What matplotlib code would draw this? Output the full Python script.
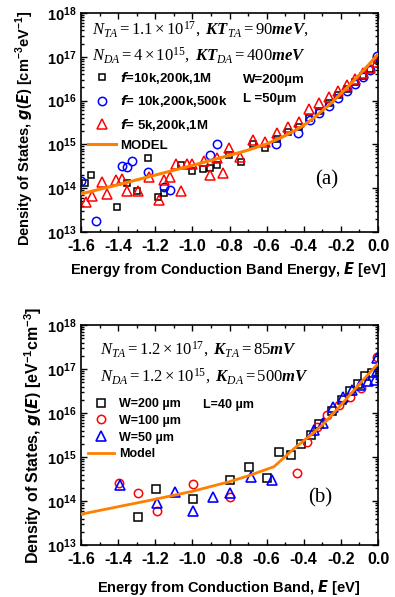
import numpy as np
import matplotlib
matplotlib.use('Agg')
import matplotlib.pyplot as plt
from matplotlib.ticker import MultipleLocator, LogLocator, LogFormatterSciNotation

plt.rcParams['font.family'] = 'Liberation Sans'
plt.rcParams['font.weight'] = 'bold'
plt.rcParams['axes.labelweight'] = 'bold'
plt.rcParams['axes.unicode_minus'] = False
plt.rcParams['mathtext.fontset'] = 'dejavusans'
# serif fonts for the parameter annotations (used via math_fontfamily='custom')
plt.rcParams['mathtext.rm'] = 'Liberation Serif:weight=normal'
plt.rcParams['mathtext.it'] = 'Liberation Serif:style=italic:weight=normal'
plt.rcParams['mathtext.bf'] = 'Liberation Serif:weight=bold'
plt.rcParams['mathtext.bfit'] = 'Liberation Serif:style=italic:weight=bold'

# ---------------- panel (a) data: E [eV], log10 g(E) ----------------
sq_a_E = [-1.578, -1.548, -1.408, -1.35, -1.297, -1.237, -1.184, -1.151, -1.061, -1.0,
          -0.941, -0.905, -0.869, -0.803, -0.740, -0.672, -0.609, -0.546, -0.483, -0.426,
          -0.370, -0.316, -0.262, -0.214, -0.169, -0.124, -0.083, -0.043, -0.007]
sq_a_lg = [14.13, 14.29, 13.56, 14.13, 13.94, 14.68, 13.79, 13.88, 14.53, 14.40,
           14.43, 14.47, 14.53, 14.76, 14.60, 15.02, 14.91, 15.12, 15.29, 15.40,
           15.60, 15.77, 15.95, 16.12, 16.27, 16.42, 16.57, 16.72, 16.92]

ci_a_E = [-1.6, -1.521, -1.381, -1.35, -1.324, -1.237, -1.151, -1.121, -0.905, -0.869,
          -0.55, -0.43, -0.366, -0.316, -0.262, -0.214, -0.165, -0.124, -0.083, -0.043, -0.007]
ci_a_lg = [14.17, 13.25, 14.51, 14.49, 14.62, 14.38, 14.02, 13.96, 14.76, 15.0,
           15.0, 15.26, 15.55, 15.72, 15.88, 16.05, 16.23, 16.38, 16.54, 16.70, 17.02]

tr_a_E = [-1.575, -1.542, -1.489, -1.462, -1.411, -1.381, -1.354, -1.295, -1.234, -1.18,
          -1.151, -1.121, -1.088, -1.061, -1.03, -1.0, -0.936, -0.905, -0.869, -0.833,
          -0.801, -0.744, -0.672, -0.609, -0.546, -0.483, -0.426, -0.370, -0.316, -0.262,
          -0.214, -0.169, -0.124, -0.083, -0.043, -0.007]
tr_a_lg = [13.69, 13.82, 14.15, 13.86, 14.19, 14.20, 13.94, 13.94, 14.25, 13.73,
           14.19, 14.26, 14.55, 13.94, 14.55, 14.55, 14.63, 14.30, 14.70, 14.35,
           14.91, 14.71, 15.10, 15.06, 15.25, 15.40, 15.52, 15.80, 15.94, 16.08,
           16.23, 16.36, 16.49, 16.62, 16.74, 16.88]

mod_a_E = [-1.6, -1.4, -1.2, -1.0, -0.8, -0.7, -0.6, -0.5, -0.45, -0.4, -0.35, -0.3,
           -0.25, -0.2, -0.15, -0.1, -0.05, 0.0]
mod_a_lg = [13.87, 14.08, 14.30, 14.52, 14.75, 14.87, 15.01, 15.20, 15.31, 15.44, 15.59, 15.77,
            15.95, 16.16, 16.37, 16.59, 16.82, 17.06]

# ---------------- panel (b) data ----------------
sq_b_E = [-1.291, -1.196, -0.995, -0.797, -0.693, -0.600, -0.532, -0.470, -0.417, -0.363,
          -0.316, -0.25, -0.196, -0.151, -0.106, -0.07, -0.034]
sq_b_lg = [13.63, 14.27, 14.05, 14.48, 14.78, 14.53, 15.12, 15.05, 15.30, 15.50,
           15.76, 16.05, 16.30, 16.50, 16.67, 16.83, 16.92]

ci_b_E = [-1.394, -1.295, -1.192, -0.995, -0.797, -0.438, -0.381, -0.330, -0.276, -0.21,
          -0.151, -0.089, -0.007]
ci_b_lg = [14.42, 14.18, 13.78, 14.38, 14.10, 14.64, 15.35, 15.68, 15.95, 16.18,
           16.36, 16.56, 17.28]

tr_b_E = [-1.39, -1.192, -1.094, -0.995, -0.891, -0.797, -0.686, -0.573, -0.345, -0.295,
          -0.241, -0.187, -0.142, -0.097, -0.052, -0.016, -0.005, -0.005]
tr_b_lg = [14.36, 13.96, 14.21, 13.77, 14.10, 14.18, 14.55, 14.48, 15.62, 15.77,
           16.14, 16.37, 16.52, 16.64, 16.73, 16.75, 16.95, 17.25]

mod_b_E = [-1.6, -1.4, -1.2, -1.0, -0.8, -0.7, -0.56, -0.5, -0.45, -0.4, -0.35, -0.3,
           -0.25, -0.2, -0.15, -0.1, -0.05, 0.0]
mod_b_lg = [13.70, 13.87, 14.04, 14.22, 14.44, 14.57, 14.78, 15.01, 15.20, 15.37, 15.54, 15.73,
            15.95, 16.18, 16.42, 16.66, 16.89, 17.12]

ORANGE = '#ff8000'

fig = plt.figure(figsize=(3.95, 5.97), dpi=100)
ax1 = fig.add_axes([81/395, 1-232/597, 297/395, 219/597])
ax2 = fig.add_axes([81/395, 1-545/597, 297/395, 220/597])


def style_axis(ax):
    ax.set_xlim(-1.6, 0.0)
    ax.set_yscale('log')
    ax.set_ylim(1e13, 1e18)
    ax.xaxis.set_major_locator(MultipleLocator(0.2))
    ax.xaxis.set_minor_locator(MultipleLocator(0.1))
    ax.yaxis.set_major_locator(LogLocator(base=10, numticks=10))
    ax.yaxis.set_minor_locator(LogLocator(base=10, subs=np.arange(2, 10), numticks=20))
    ax.yaxis.set_major_formatter(LogFormatterSciNotation())
    ax.xaxis.set_major_formatter(matplotlib.ticker.FormatStrFormatter('%.1f'))
    ax.tick_params(which='both', direction='in', top=True, right=True, width=1)
    ax.tick_params(which='major', length=4.5)
    ax.tick_params(which='minor', length=2.5)
    ax.tick_params(axis='x', labelsize=11.5, pad=5)
    ax.tick_params(axis='y', labelsize=10.5, pad=3)
    for s in ax.spines.values():
        s.set_linewidth(1.2)


def pw(v):
    return 10 ** np.array(v)


# ---------------- panel (a) ----------------
style_axis(ax1)
h1, = ax1.plot(sq_a_E, pw(sq_a_lg), 's', ms=5, mfc='none', mec='black', mew=1.1)
h2, = ax1.plot(ci_a_E, pw(ci_a_lg), 'o', ms=6, mfc='none', mec='#0000ff', mew=1.1)
h3, = ax1.plot(tr_a_E, pw(tr_a_lg), '^', ms=7, mfc='none', mec='#ff0000', mew=1.1)
h4, = ax1.plot(mod_a_E, pw(mod_a_lg), '-', color=ORANGE, lw=2.2, zorder=4)
ax1.legend([h1, h2, h3, h4],
           [r'$\boldsymbol{f}$=10k,200k,1M', r'$\boldsymbol{f}$= 10k,200k,500k',
            r'$\boldsymbol{f}$= 5k,200k,1M', 'MODEL'],
           loc='upper left', bbox_to_anchor=((88-81)/297, (232-70)/219),
           frameon=False, fontsize=9.5, handlelength=2.1, handletextpad=0.35,
           labelspacing=0.55, borderpad=0, borderaxespad=0)
ax1.text((243-81)/297, (232-80)/219, 'W=200µm', transform=ax1.transAxes,
         fontsize=9.5, va='center')
ax1.text((243-81)/297, (232-99)/219, 'L =50µm', transform=ax1.transAxes,
         fontsize=9.5, va='center')
ax1.text((92-81)/297, (232-34.5)/219,
         r'$N_{TA}=1.1\times10^{17},\ \mathbfit{KT}_{TA}=90\mathbfit{meV},$',
         transform=ax1.transAxes, fontsize=12, math_fontfamily='custom',
         va='baseline', ha='left')
ax1.text((92-81)/297, (232-60)/219,
         r'$N_{DA}=4\times10^{15},\ \mathbfit{KT}_{DA}=400\mathbfit{meV}$',
         transform=ax1.transAxes, fontsize=12, math_fontfamily='custom',
         va='baseline', ha='left')
ax1.text(0.828, 0.237, '(a)', transform=ax1.transAxes, family='Liberation Serif',
         fontweight='normal', fontsize=15, ha='center', va='center')
ax1.set_xlabel(r'Energy from Conduction Band Energy, $\boldsymbol{E}$ [eV]', fontsize=10.5)
ax1.xaxis.set_label_coords(0.497, -0.127)
ax1.set_ylabel(r'Density of States, $\boldsymbol{g}$($\boldsymbol{E}$) '
               r'[cm$^{\mathdefault{-3}}$eV$^{\mathdefault{-1}}$]', fontsize=10.5)
ax1.yaxis.set_label_coords(-0.152, 0.475)

# ---------------- panel (b) ----------------
style_axis(ax2)
g1, = ax2.plot(sq_b_E, pw(sq_b_lg), 's', ms=5.5, mfc='none', mec='black', mew=1.1)
g2, = ax2.plot(ci_b_E, pw(ci_b_lg), 'o', ms=6, mfc='none', mec='#ff0000', mew=1.1)
g3, = ax2.plot(tr_b_E, pw(tr_b_lg), '^', ms=7.5, mfc='none', mec='#0000ff', mew=1.2)
g4, = ax2.plot(mod_b_E, pw(mod_b_lg), '-', color=ORANGE, lw=2, zorder=4)
ax2.legend([g1, g2, g3, g4], ['W=200 µm', 'W=100 µm', 'W=50 µm', 'Model'],
           loc='upper left', bbox_to_anchor=((88-81)/297, (545-398)/220),
           frameon=False, fontsize=9, handlelength=2.1, handletextpad=0.35,
           labelspacing=0.38, borderpad=0, borderaxespad=0)
ax2.text((203-81)/297, (545-405)/220, 'L=40 µm', transform=ax2.transAxes,
         fontsize=9, va='center')
ax2.text((100-81)/297, (545-354)/220,
         r'$N_{TA}=1.2\times10^{17},\ \mathbfit{K}_{TA}=85\mathbfit{mV}$',
         transform=ax2.transAxes, fontsize=12, math_fontfamily='custom',
         va='baseline', ha='left')
ax2.text((100-81)/297, (545-381.7)/220,
         r'$N_{DA}=1.2\times10^{15},\ \mathbfit{K}_{DA}=500\mathbfit{mV}$',
         transform=ax2.transAxes, fontsize=12, math_fontfamily='custom',
         va='baseline', ha='left')
ax2.text(0.805, 0.214, '(b)', transform=ax2.transAxes, family='Liberation Serif',
         fontweight='normal', fontsize=15, ha='center', va='center')
ax2.set_xlabel(r'Energy from Conduction Band, $\boldsymbol{E}$ [eV]', fontsize=10.5)
ax2.xaxis.set_label_coords(0.497, -0.15)
ax2.set_ylabel(r'Density of States, $\boldsymbol{g}$($\boldsymbol{E}$) '
               r'[eV$^{\mathdefault{-1}}$cm$^{\mathdefault{-3}}$]', fontsize=11.5)
ax2.yaxis.set_label_coords(-0.125, 0.5)

fig.savefig('out.png', dpi=100)
